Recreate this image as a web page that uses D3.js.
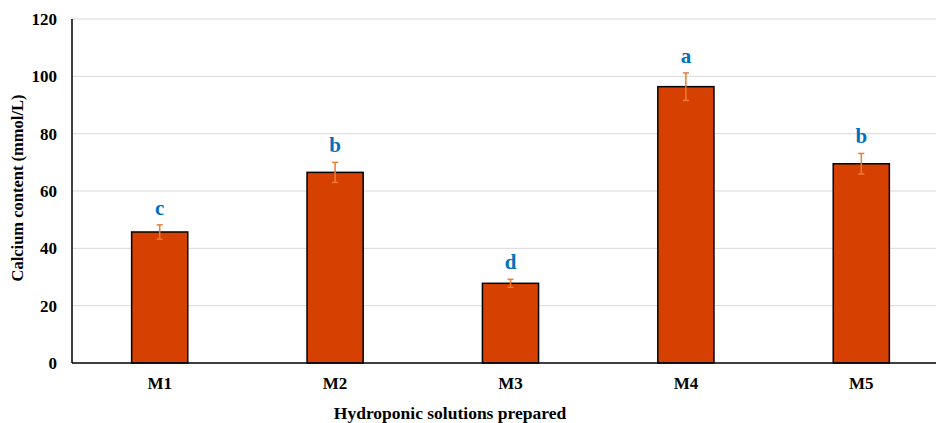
<!DOCTYPE html>
<html>
<head>
<meta charset="utf-8">
<script src="https://cdn.jsdelivr.net/npm/d3@7"></script>
<style>
  body { margin: 0; background: #fff; }
  text { font-family: "Liberation Serif", "Times New Roman", serif; font-weight: bold; }
</style>
</head>
<body>
<svg id="chart" width="936" height="423"></svg>
<script>
var categories = ['M1', 'M2', 'M3', 'M4', 'M5'];
var values = [45.7, 66.5, 27.8, 96.4, 69.5];
var errors = [2.5, 3.5, 1.4, 4.8, 3.6];
var letters = ['c', 'b', 'd', 'a', 'b'];
var yTicks = [0, 20, 40, 60, 80, 100, 120];

var svg = d3.select('#chart');
var plotLeft = 72, plotTop = 19, plotBottom = 363, plotRight = 949;

var x = d3.scaleBand().domain(categories).range([plotLeft, plotRight])
    .paddingInner(0.68).paddingOuter(0.34);
var y = d3.scaleLinear().domain([0, 120]).range([plotBottom, plotTop]);

// grid
svg.append('g').selectAll('line')
    .data(yTicks.filter(d => d > 0))
    .join('line')
    .attr('x1', plotLeft).attr('x2', 936)
    .attr('y1', d => y(d)).attr('y2', d => y(d))
    .style('stroke', '#d9d9d9').style('stroke-width', 1);

// y tick labels
svg.append('g').selectAll('text')
    .data(yTicks)
    .join('text')
    .attr('x', 57).attr('y', d => y(d) + 6)
    .attr('text-anchor', 'end')
    .style('font-size', '17px')
    .text(d => d);

// bars
svg.append('g').selectAll('rect')
    .data(values)
    .join('rect')
    .attr('x', (d, i) => x(categories[i]))
    .attr('y', d => y(d))
    .attr('width', x.bandwidth())
    .attr('height', d => plotBottom - y(d))
    .style('fill', '#D64000')
    .style('stroke', '#000')
    .style('stroke-width', 1.5);

// error bars
var eb = svg.append('g').style('stroke', '#ED7D31').style('stroke-width', 1.5);
values.forEach(function(v, i) {
    var cx = x(categories[i]) + x.bandwidth() / 2;
    eb.append('line').attr('x1', cx).attr('x2', cx).attr('y1', y(v + errors[i])).attr('y2', y(v - errors[i]));
    eb.append('line').attr('x1', cx - 3).attr('x2', cx + 3).attr('y1', y(v + errors[i])).attr('y2', y(v + errors[i]));
    eb.append('line').attr('x1', cx - 3).attr('x2', cx + 3).attr('y1', y(v - errors[i])).attr('y2', y(v - errors[i]));
});

// significance letters
svg.append('g').selectAll('text')
    .data(letters)
    .join('text')
    .attr('x', (d, i) => x(categories[i]) + x.bandwidth() / 2)
    .attr('y', (d, i) => y(values[i] + errors[i]) - 10)
    .attr('text-anchor', 'middle')
    .style('font-size', '21px')
    .style('fill', '#0070C0')
    .text(d => d);

// axes lines
svg.append('line').attr('x1', plotLeft).attr('x2', plotLeft).attr('y1', plotTop).attr('y2', plotBottom)
    .style('stroke', '#000').style('stroke-width', 1.5);
svg.append('line').attr('x1', plotLeft).attr('x2', 936).attr('y1', plotBottom).attr('y2', plotBottom)
    .style('stroke', '#000').style('stroke-width', 1.5);

// category labels
svg.append('g').selectAll('text')
    .data(categories)
    .join('text')
    .attr('x', d => x(d) + x.bandwidth() / 2)
    .attr('y', 389)
    .attr('text-anchor', 'middle')
    .style('font-size', '17px')
    .text(d => d);

// axis titles
svg.append('text')
    .attr('x', 450).attr('y', 419)
    .attr('text-anchor', 'middle')
    .style('font-size', '17.5px')
    .text('Hydroponic solutions prepared');

svg.append('text')
    .attr('transform', 'translate(23,188) rotate(-90)')
    .attr('text-anchor', 'middle')
    .style('font-size', '16.5px')
    .text('Calcium content (mmol/L)');
</script>
</body>
</html>
